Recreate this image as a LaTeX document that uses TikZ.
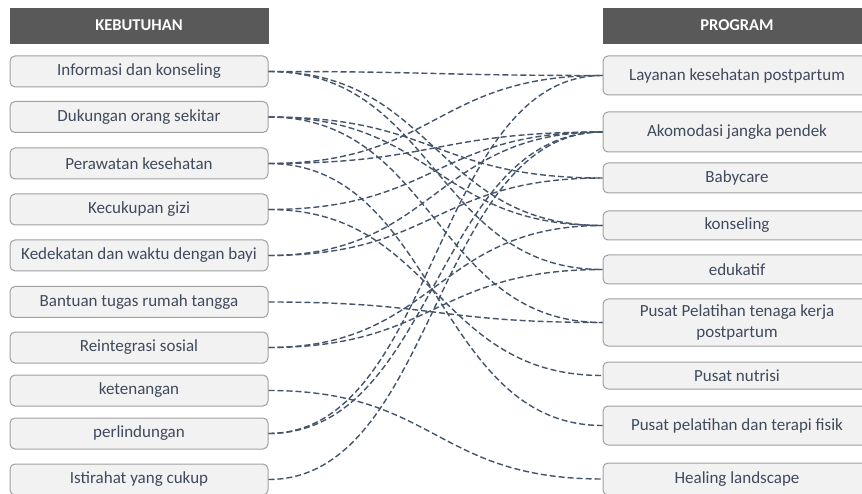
\documentclass[tikz,border=0pt]{standalone}
\usepackage{fontspec}
\setmainfont{Carlito}
\definecolor{lnc}{HTML}{44546A}
\definecolor{txc}{HTML}{3F4A5C}
\definecolor{hdc}{HTML}{595959}
\definecolor{bxf}{HTML}{F2F2F2}
\definecolor{bxd}{HTML}{A0A0A0}
\begin{document}
\begin{tikzpicture}[x=1pt,y=-1pt,
  box/.style={draw=bxd, line width=1pt, fill=bxf, rounded corners=5pt, text=txc,
    font=\fontsize{17}{21}\selectfont, inner sep=0pt, align=center},
  lbox/.style={box, minimum width=258pt},
  rbox/.style={box, minimum width=268pt},
  hdr/.style={fill=hdc, draw=hdc, text=white, font=\bfseries\fontsize{16.5}{19}\selectfont,
    minimum height=35pt, inner sep=0pt},
  link/.style={draw=lnc, line width=1.4pt, dash pattern=on 6pt off 3pt}]
\useasboundingbox (0,0) rectangle (862,494);
\clip (0,0) rectangle (862,494);
\fill[white] (0,0) rectangle (862,494);
% headers
\node[hdr, minimum width=258pt] (HL) at (139,25.5) {KEBUTUHAN};
\node[hdr, minimum width=268pt] (HR) at (737,25.5) {PROGRAM};
% left boxes
\node[lbox, minimum height=31pt] (L1) at (139,71.5) {Informasi dan konseling};
\node[lbox, minimum height=31pt] (L2) at (139,117) {Dukungan orang sekitar};
\node[lbox, minimum height=31pt] (L3) at (139,163.5) {Perawatan kesehatan};
\node[lbox, minimum height=31pt] (L4) at (139,209.5) {Kecukupan gizi};
\node[lbox, minimum height=31pt] (L5) at (139,255.5) {Kedekatan dan waktu dengan bayi};
\node[lbox, minimum height=31pt] (L6) at (139,302) {Bantuan tugas rumah tangga};
\node[lbox, minimum height=31pt] (L7) at (139,347.5) {Reintegrasi sosial};
\node[lbox, minimum height=31pt] (L8) at (139,390.5) {ketenangan};
\node[lbox, minimum height=31pt] (L9) at (139,433.5) {perlindungan};
\node[lbox, minimum height=31pt] (L10) at (139,479.5) {Istirahat yang cukup};
% right boxes
\node[rbox, minimum height=39pt] (R1) at (737,75.5) {Layanan kesehatan postpartum};
\node[rbox, minimum height=40pt] (R2) at (737,132) {Akomodasi jangka pendek};
\node[rbox, minimum height=30pt] (R3) at (737,178) {Babycare};
\node[rbox, minimum height=29pt] (R4) at (737,225.5) {konseling};
\node[rbox, minimum height=29pt] (R5) at (737,269.5) {edukatif};
\node[rbox, minimum height=47pt] (R6) at (737,322.5) {Pusat Pelatihan tenaga kerja\\postpartum};
\node[rbox, minimum height=27pt] (R7) at (737,375.5) {Pusat nutrisi};
\node[rbox, minimum height=39pt] (R8) at (737,425.5) {Pusat pelatihan dan terapi fisik};
\node[rbox, minimum height=32pt] (R9) at (737,479) {Healing landscape};
% connectors
\foreach \a/\b in {L1/R1, L1/R4, L1/R5,
                   L2/R3, L2/R4, L2/R6,
                   L3/R1, L3/R2, L3/R8,
                   L4/R2, L4/R7,
                   L5/R2, L5/R3,
                   L6/R6,
                   L7/R4, L7/R5,
                   L8/R9,
                   L9/R1, L9/R2,
                   L10/R2}
  \draw[link] (\a.east) .. controls +(167.5,0) and +(-167.5,0) .. (\b.west);
\end{tikzpicture}
\end{document}
